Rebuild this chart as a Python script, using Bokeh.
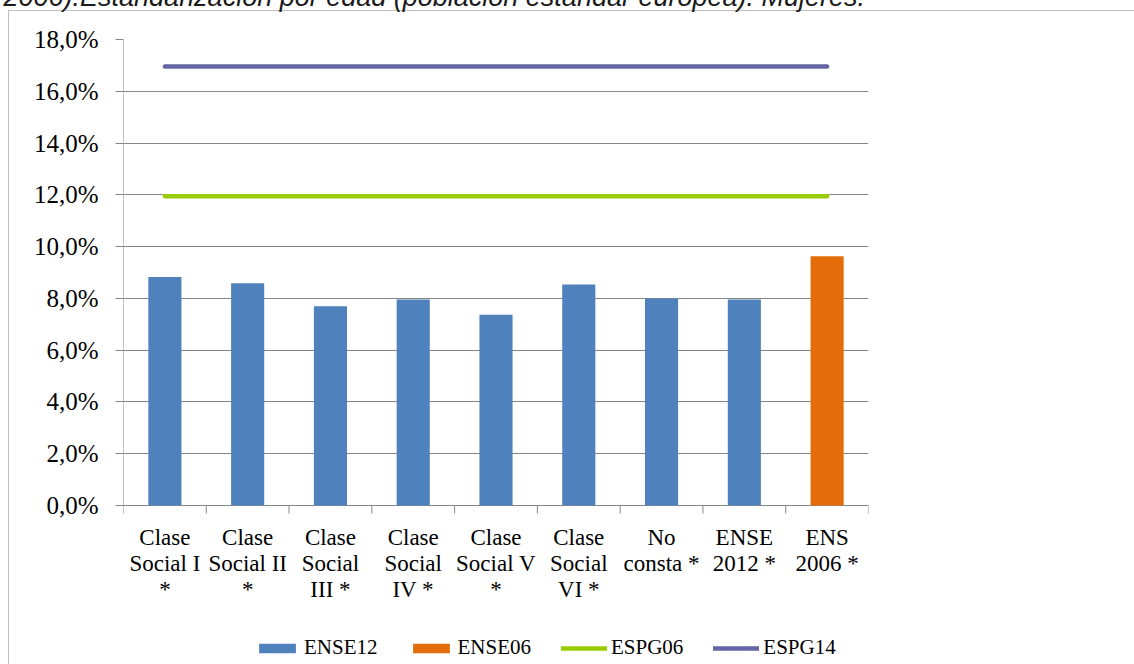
from bokeh.plotting import figure
from bokeh.models import (Range1d, FixedTicker, Legend, LegendItem, Title,
                          ColumnDataSource)
from bokeh.embed import file_html
from bokeh.resources import INLINE

# ---- data ----
categories = ["Clase Social I *", "Clase Social II *", "Clase Social III *",
              "Clase Social IV *", "Clase Social V *", "Clase Social VI *",
              "No consta *", "ENSE 2012 *", "ENS 2006 *"]
tick_labels = ["Clase\nSocial I\n*", "Clase\nSocial II\n*", "Clase\nSocial\nIII *",
               "Clase\nSocial\nIV *", "Clase\nSocial V\n*", "Clase\nSocial\nVI *",
               "No\nconsta *", "ENSE\n2012 *", "ENS\n2006 *"]
ense12_cats = categories[:8]
ense12 = [8.83, 8.58, 7.70, 7.96, 7.37, 8.54, 8.00, 7.96]
ense06_cats = categories[8:]
ense06 = [9.63]
espg06 = [11.95, 11.95, 11.95, 11.95, 11.95, 11.95, 11.95, 11.95, 11.95]
espg14 = [16.96, 16.96, 16.96, 16.96, 16.96, 16.96, 16.96, 16.96, 16.96]
y_ticks = [0, 2, 4, 6, 8, 10, 12, 14, 16, 18]
series_names = ["ENSE12", "ENSE06", "ESPG06", "ESPG14"]
title_text = "2006).Estandarización por edad (población estándar europea). Mujeres."

idx = {c: i + 0.5 for i, c in enumerate(categories)}
centers = [idx[c] for c in categories]
bounds = [i for i in range(len(categories) + 1)]

FONT = "Liberation Serif"
GRAY = "#868686"
BLUE, ORANGE, GREEN, PURPLE = "#4F81BD", "#E46C0A", "#99CC00", "#6666A6"

# layout geometry (pixels)
TOP_SHIFT = 51                 # canvas starts above the window
CANVAS_H = 664 + TOP_SHIFT
BORDER_TOP = 90
PLOT_PX = 466                  # pixels spanned by 0 %..18 %
px_per_unit = PLOT_PX / (y_ticks[-1] - y_ticks[0])
y_low = y_ticks[-1] - (CANVAS_H - BORDER_TOP) / px_per_unit
tick_len = 8 / px_per_unit

p = figure(width=1134, height=CANVAS_H, x_range=Range1d(0, len(categories)),
           y_range=Range1d(y_low, y_ticks[-1]), output_backend="svg",
           toolbar_location=None, x_axis_location=None,
           min_border_left=123, min_border_right=266, min_border_top=BORDER_TOP,
           min_border_bottom=0)
bline = "linear-gradient(#BFBFBF, #BFBFBF)"
p.styles = {"position": "absolute", "left": "0px", "top": f"-{TOP_SHIFT}px",
            "background-image": f"{bline}, {bline}",
            "background-size": "1px 100%, 100% 1px",
            "background-position": f"8px {TOP_SHIFT + 10}px, 8px {TOP_SHIFT + 10}px",
            "background-repeat": "no-repeat"}
p.title.visible = False
p.outline_line_color = None
p.background_fill_color = "white"
p.border_fill_color = None

# grid
p.xgrid.visible = False
p.ygrid.ticker = FixedTicker(ticks=y_ticks)
p.ygrid.grid_line_color = GRAY
p.ygrid.grid_line_width = 1

# y axis (ticks + labels); its line is drawn only over 0..18 below
p.yaxis.ticker = FixedTicker(ticks=y_ticks)
p.yaxis.major_label_overrides = {t: (f"{t:.1f}%").replace(".", ",") for t in y_ticks}
p.yaxis.axis_line_color = None
p.yaxis.major_tick_line_color = GRAY
p.yaxis.major_tick_out = 8
p.yaxis.major_tick_in = 0
p.yaxis.minor_tick_line_color = None
p.yaxis.major_label_standoff = 17
p.yaxis.major_label_text_font = FONT
p.yaxis.major_label_text_font_size = "25px"
p.yaxis.major_label_text_color = "black"

# value-axis line and category-boundary ticks
p.segment(x0=[0], y0=[y_ticks[0]], x1=[0], y1=[y_ticks[-1]], line_color=GRAY, line_width=1)
p.segment(x0=bounds, y0=[y_ticks[0]] * len(bounds), x1=bounds,
          y1=[y_ticks[0] - tick_len] * len(bounds), line_color=GRAY, line_width=1)

# category labels
lab_src = ColumnDataSource(dict(x=centers, y=[y_ticks[0]] * len(centers), text=tick_labels))
p.text(x="x", y="y", text="text", source=lab_src, text_align="center",
       text_baseline="top", y_offset=19, text_font=FONT, text_font_size="23px",
       text_line_height=1.04, text_color="black")

# bars
src12 = ColumnDataSource(dict(x=[idx[c] for c in ense12_cats], top=ense12))
src06 = ColumnDataSource(dict(x=[idx[c] for c in ense06_cats], top=ense06))
r12 = p.vbar(x="x", top="top", width=0.4, source=src12, fill_color=BLUE, line_color=None)
r06 = p.vbar(x="x", top="top", width=0.4, source=src06, fill_color=ORANGE, line_color=None)

# lines
rg = p.line(centers, espg06, line_color=GREEN, line_width=4.5, line_cap="round")
rp = p.line(centers, espg14, line_color=PURPLE, line_width=4.5, line_cap="round")

# cut-off document text above the chart
title = Title(text=title_text, align="left", offset=-120, standoff=55,
              text_font="Liberation Sans", text_font_style="italic",
              text_font_size="27px", text_color="#1a1a1a")
p.add_layout(title, "above")

legend = Legend(items=[LegendItem(label=n, renderers=[r]) for n, r in
                       zip(series_names, [r12, r06, rg, rp])],
                orientation="horizontal", location=(131, 4),
                glyph_width=46, glyph_height=12, label_standoff=4, spacing=30,
                padding=0, margin=0, border_line_color=None,
                background_fill_alpha=0,
                label_text_font=FONT, label_text_font_size="21px",
                label_text_color="black")
p.add_layout(legend, "center")

open("out.html", "w").write(file_html(p, INLINE))
